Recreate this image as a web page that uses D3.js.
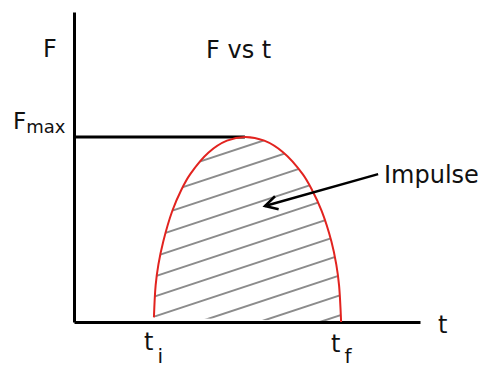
<!DOCTYPE html>
<html>
<head>
<meta charset="utf-8">
<script src="https://cdn.jsdelivr.net/npm/d3@7"></script>
<style>
  html, body { margin: 0; padding: 0; background: #fff; }
  text { font-family: "DejaVu Sans", sans-serif; fill: #111; }
</style>
</head>
<body>
<div id="chart"></div>
<script>
// axis extents (arbitrary units)
const tDomain = [0, 10];
const fDomain = [0, 10];

// force pulse
const curveT = [2.31, 2.36, 2.44, 2.58, 2.84, 3.10, 3.36, 3.89, 4.42, 4.94, 5.50, 6.05, 6.61, 6.88, 7.16, 7.44, 7.58, 7.66, 7.72];
const curveF = [0.15, 1.19, 1.86, 2.60, 3.58, 4.26, 4.77, 5.47, 5.85, 5.97, 5.85, 5.47, 4.77, 4.26, 3.58, 2.60, 1.86, 1.19, 0];

const tPeak = 4.94;
const fMax = 5.97;

// labels
const title = "F vs t";
const xLabel = "t";
const yLabel = "F";
const fMaxLabel = ["F", "max"];
const tiLabel = ["t", "i"];
const tfLabel = ["t", "f"];
const annotText = "Impulse";
const annotFrom = [8.79, 4.77];
const annotTo = [5.52, 3.74];

const width = 486, height = 367;

const svg = d3.select("#chart").append("svg")
  .attr("width", width)
  .attr("height", height);

const x = d3.scaleLinear().domain(tDomain).range([74, 420]);
const y = d3.scaleLinear().domain(fDomain).range([322, 12]);

const pts = curveT.map((t, i) => ({t: t, f: curveF[i]}));

const line = d3.line()
  .x(d => x(d.t))
  .y(d => y(d.f))
  .curve(d3.curveCatmullRom);

// clip for hatching
svg.append("clipPath").attr("id", "pulseClip")
  .append("path")
  .attr("d", line(pts) + "Z");

// hatch lines (style only), slope ~0.33, 20px apart
const hatch = svg.append("g")
  .attr("clip-path", "url(#pulseClip)");
const slope = 0.33;
for (let k = -2; k < 14; k++) {
  let yc = 145 + 20 * k;
  hatch.append("line")
    .attr("x1", 120).attr("y1", yc + slope * (250 - 120))
    .attr("x2", 380).attr("y2", yc - slope * (380 - 250))
    .attr("stroke", "#8c8c8c")
    .attr("stroke-width", 2);
}

// Fmax line
svg.append("line")
  .attr("x1", x(0)).attr("x2", x(tPeak))
  .attr("y1", y(fMax)).attr("y2", y(fMax))
  .attr("stroke", "#000")
  .attr("stroke-width", 3);

// axes
const xAxis = d3.axisBottom(x).tickValues([]).tickSizeOuter(0);
const yAxis = d3.axisLeft(y).tickValues([]).tickSizeOuter(0);

svg.append("g")
  .attr("transform", `translate(0,${y(0)})`)
  .call(xAxis)
  .select(".domain").attr("stroke", "#000").attr("stroke-width", 3);

svg.append("g")
  .attr("transform", `translate(${x(0)},0)`)
  .call(yAxis)
  .select(".domain").attr("stroke", "#000").attr("stroke-width", 3);

// pulse curve
svg.append("path")
  .datum(pts)
  .attr("d", line)
  .attr("fill", "none")
  .attr("stroke", "#e2231f")
  .attr("stroke-width", 2);

// arrow
svg.append("line")
  .attr("x1", x(annotFrom[0])).attr("y1", y(annotFrom[1]))
  .attr("x2", x(annotTo[0])).attr("y2", y(annotTo[1]))
  .attr("stroke", "#000")
  .attr("stroke-width", 2.5);

let ax = x(annotTo[0]), ay = y(annotTo[1]);
let ang = Math.atan2(y(annotFrom[1]) - ay, x(annotFrom[0]) - ax);
let headLen = 14, spread = 0.5;
svg.append("path")
  .attr("d", `M${ax + headLen * Math.cos(ang - spread)},${ay + headLen * Math.sin(ang - spread)}L${ax},${ay}L${ax + headLen * Math.cos(ang + spread)},${ay + headLen * Math.sin(ang + spread)}`)
  .attr("fill", "none")
  .attr("stroke", "#000")
  .attr("stroke-width", 2.5);

svg.append("text")
  .attr("x", 384).attr("y", 182.5)
  .attr("font-size", 24)
  .text(annotText);

// text labels
svg.append("text")
  .attr("x", 206).attr("y", 58)
  .attr("font-size", 24)
  .text(title);

svg.append("text")
  .attr("x", 43).attr("y", 57)
  .attr("font-size", 24)
  .text(yLabel);

svg.append("text")
  .attr("x", 438).attr("y", 333)
  .attr("font-size", 24)
  .text(xLabel);

let fm = svg.append("text").attr("x", 13).attr("y", 128.5).attr("font-size", 23);
fm.append("tspan").text(fMaxLabel[0]);
fm.append("tspan").attr("font-size", 18).attr("dy", 4.5).text(fMaxLabel[1]);

let ti = svg.append("text").attr("x", 144).attr("y", 350).attr("font-size", 24);
ti.append("tspan").text(tiLabel[0]);
ti.append("tspan").attr("font-size", 20).attr("dx", 4).attr("dy", 13).text(tiLabel[1]);

let tf = svg.append("text").attr("x", 331).attr("y", 352).attr("font-size", 24);
tf.append("tspan").text(tfLabel[0]);
tf.append("tspan").attr("font-size", 20).attr("dx", 4).attr("dy", 11).text(tfLabel[1]);
</script>
</body>
</html>
